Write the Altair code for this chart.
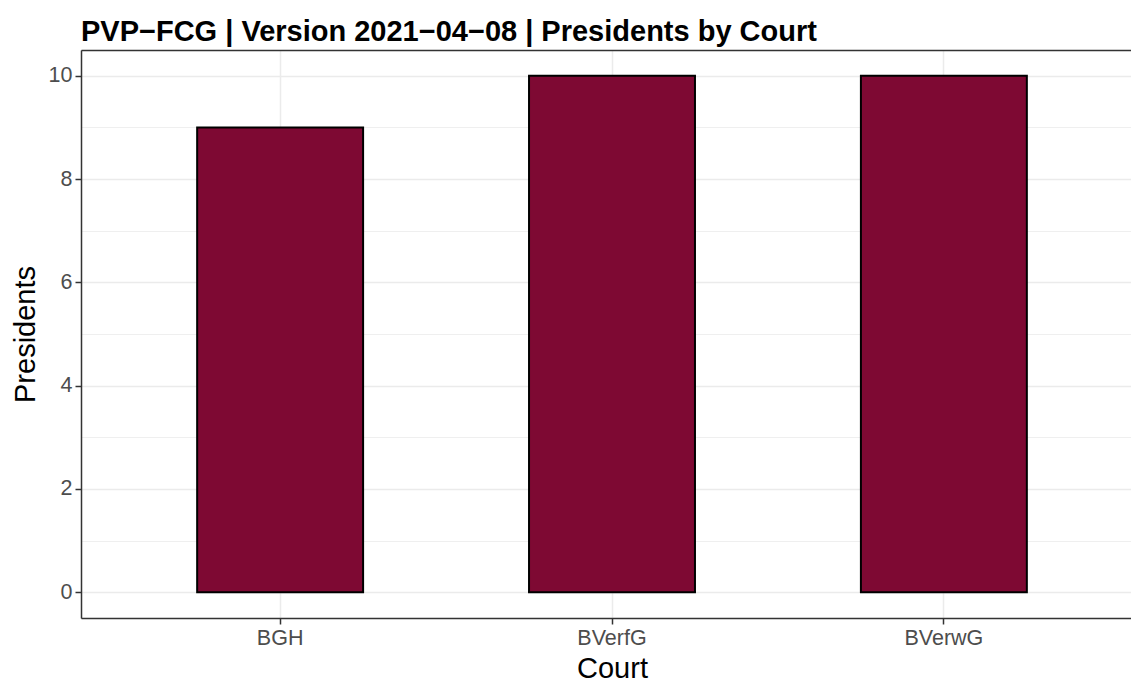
import altair as alt
import pandas as pd

courts = ["BGH", "BVerfG", "BVerwG"]
presidents = [9, 10, 10]
y_ticks = list(range(0, 11))

df = pd.DataFrame({"Court": courts, "Presidents": presidents})

FONT = "Liberation Sans"
BORDER = "#333333"

base = alt.Chart(df)

x_scale = alt.Scale(range=[0, 1062], paddingInner=0.5, paddingOuter=0.35)
y_scale = alt.Scale(domain=[-0.5, 10.5], nice=False, zero=False)

bars = base.mark_bar(color="#7E0933", stroke="black", strokeWidth=2).encode(
    x=alt.X("Court:N", sort=courts, scale=x_scale,
            axis=alt.Axis(title="Court", bandPosition=0.5, labelAngle=0,
                          grid=True, gridColor="#EBEBEB", gridWidth=1.5,
                          domain=True, domainColor=BORDER, domainWidth=1.5,
                          tickColor=BORDER, tickWidth=1.5, tickSize=6,
                          labelPadding=3, labelFont=FONT, labelFontSize=21.5,
                          labelColor="#4D4D4D", titleFont=FONT, titleFontSize=29,
                          titleFontWeight="normal", titleColor="black",
                          titlePadding=6)),
    y=alt.Y("Presidents:Q", scale=y_scale,
            axis=alt.Axis(title="Presidents", values=y_ticks,
                          labelExpr="datum.value % 2 === 0 ? datum.label : ''",
                          grid=True, gridColor="#EBEBEB",
                          gridWidth={"condition": {"test": "datum.value % 2 === 1", "value": 0.8}, "value": 1.5},
                          tickOpacity={"condition": {"test": "datum.value % 2 === 1", "value": 0}, "value": 1},
                          domain=True, domainColor=BORDER, domainWidth=1.5,
                          tickColor=BORDER, tickWidth=1.5, tickSize=6,
                          labelPadding=3, labelFont=FONT, labelFontSize=21.5,
                          labelColor="#4D4D4D", titleFont=FONT, titleFontSize=29,
                          titleFontWeight="normal", titleColor="black",
                          titlePadding=8)),
)

top = base.mark_bar(opacity=0).encode(
    x=alt.X("Court:N", sort=courts, scale=x_scale,
            axis=alt.Axis(orient="top", title=None, labels=False, ticks=False,
                          grid=False, domain=True, domainColor=BORDER,
                          domainWidth=1.5, minExtent=0, maxExtent=0)),
    y=alt.Y("Presidents:Q", scale=y_scale, axis=None),
)

chart = alt.layer(bars, top).resolve_axis(x="independent", y="independent").properties(
    width=1050,
    height=568,
    padding={"left": 73, "top": 42, "right": 0, "bottom": 63},
    autosize=alt.AutoSizeParams(type="none"),
    title=alt.TitleParams(
        text="PVP−FCG | Version 2021−04−08 | Presidents by Court",
        anchor="start", frame="group", fontSize=29, fontWeight="bold",
        font=FONT, color="black", offset=4, baseline="bottom", dy=30),
).configure_view(strokeWidth=0).configure(background="white")

chart.save("out.html", embed_options={"renderer": "svg", "actions": False})
